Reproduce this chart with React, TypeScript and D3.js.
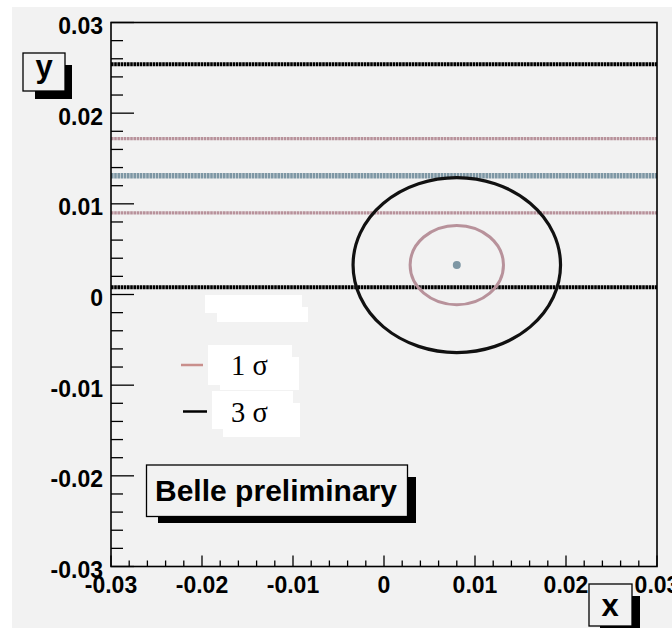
import React from "react";
import * as d3 from "d3";

// Measured band levels (y) and contour ellipses in the (x, y) plane
const centralBand: number[] = [0.0131];
const oneSigmaBand: number[] = [0.009, 0.0172];
const threeSigmaBand: number[] = [0.0008, 0.0254];

const bestFit: [number, number] = [0.008, 0.00325];
const oneSigmaRadii: [number, number] = [0.00513, 0.00437];
const threeSigmaRadii: [number, number] = [0.0114, 0.00965];

const legendLabels: string[] = ["1 σ", "3 σ"];
const annotation = "Belle preliminary";
const xTitle = "x";
const yTitle = "y";

const W = 672;
const H = 628;
const sans = "'Liberation Sans', Arial, Helvetica, sans-serif";
const serif = "'Liberation Serif', 'Times New Roman', serif";

const PINK = "#b8929b";
const BLUE = "#7e97a4";
const LEGEND_PINK = "#c98f8c";

export default function App() {
  const x = d3.scaleLinear().domain([-0.03, 0.03]).range([111, 657]);
  const y = d3.scaleLinear().domain([-0.03, 0.03]).range([566.5, 22.5]);

  const minorX = x.ticks(30);
  const majorX = x.ticks(6);
  const minorY = y.ticks(30);
  const majorY = y.ticks(6);
  const fmt = (v: number) =>
    Math.abs(v) < 1e-12 ? "0" : d3.format(".2f")(v).replace("\u2212", "-");

  const [x0, x1] = x.range();

  const hLine = (v: number, color: string, width: number, key: string) => (
    <line
      key={key}
      x1={x0}
      x2={x1}
      y1={y(v)}
      y2={y(v)}
      stroke={color}
      strokeWidth={width}
      strokeDasharray="2.6 0.6"
    />
  );

  const ellipse = (r: [number, number], color: string, width: number, key: string) => (
    <ellipse
      key={key}
      cx={x(bestFit[0])}
      cy={y(bestFit[1])}
      rx={x(bestFit[0] + r[0]) - x(bestFit[0])}
      ry={y(bestFit[1]) - y(bestFit[1] + r[1])}
      fill="none"
      stroke={color}
      strokeWidth={width}
    />
  );

  return (
    <svg
      width={W}
      height={H}
      style={{ position: "absolute", left: 0, top: 0, background: "#ffffff" }}
    >
      {/* canvas */}
      <rect x={12} y={7} width={W - 12} height={H - 7} fill="#f2f2f2" />

      {/* bands */}
      {threeSigmaBand.map((v, i) => hLine(v, "#000000", 4, `t${i}`))}
      {oneSigmaBand.map((v, i) => hLine(v, PINK, 3.2, `o${i}`))}
      {centralBand.map((v, i) => hLine(v, BLUE, 5.5, `c${i}`))}

      {/* contours */}
      {ellipse(threeSigmaRadii, "#111111", 3.2, "e3")}
      {ellipse(oneSigmaRadii, PINK, 3, "e1")}
      <circle cx={x(bestFit[0])} cy={y(bestFit[1])} r={4} fill={BLUE} />

      {/* frame */}
      <rect
        x={x0}
        y={y.range()[1]}
        width={x1 - x0}
        height={y.range()[0] - y.range()[1]}
        fill="none"
        stroke="#000"
        strokeWidth={1.6}
      />

      {/* y axis ticks */}
      {minorY.map((v) => (
        <line
          key={`my${v}`}
          x1={x0}
          x2={x0 + (majorY.some((m) => Math.abs(m - v) < 1e-9) ? 23 : 12)}
          y1={y(v)}
          y2={y(v)}
          stroke="#000"
          strokeWidth={1.3}
        />
      ))}
      {majorY.map((v) => (
        <text
          key={`ly${v}`}
          x={103}
          y={y(v) + 11.5}
          textAnchor="end"
          fontFamily={sans}
          fontWeight="bold"
          fontSize={23}
          fill="#000"
        >
          {fmt(v)}
        </text>
      ))}

      {/* x axis ticks */}
      {minorX.map((v) => (
        <line
          key={`mx${v}`}
          x1={x(v)}
          x2={x(v)}
          y1={y.range()[0]}
          y2={y.range()[0] - (majorX.some((m) => Math.abs(m - v) < 1e-9) ? 11 : 6)}
          stroke="#000"
          strokeWidth={1.3}
        />
      ))}
      {majorX.map((v) => (
        <text
          key={`lx${v}`}
          x={x(v)}
          y={592.5}
          textAnchor="middle"
          fontFamily={sans}
          fontWeight="bold"
          fontSize={23}
          fill="#000"
        >
          {fmt(v)}
        </text>
      ))}

      {/* axis titles */}
      <rect x={35} y={65} width={37} height={34} fill="#000" />
      <rect x={23} y={53} width={42} height={38} fill="#f2f2f2" stroke="#000" strokeWidth={1.3} />
      <text x={44} y={77} textAnchor="middle" fontFamily={sans} fontWeight="bold" fontSize={31}>
        {yTitle}
      </text>

      <rect x={600} y={596} width={40} height={34} fill="#000" />
      <rect x={589} y={584} width={43} height={42} fill="#f2f2f2" stroke="#000" strokeWidth={1.3} />
      <text x={610} y={616} textAnchor="middle" fontFamily={sans} fontWeight="bold" fontSize={31}>
        {xTitle}
      </text>

      {/* legend */}
      <rect x={205} y={295} width={97} height={18} fill="#fff" />
      <rect x={217} y={307} width={91} height={15} fill="#fff" />

      <rect x={208} y={345} width={84} height={40} fill="#fff" />
      <rect x={220} y={357} width={79} height={33} fill="#fff" />
      <line x1={181} x2={203} y1={365} y2={365} stroke={LEGEND_PINK} strokeWidth={2.5} />
      <text x={231} y={375} fontFamily={serif} fontSize={28.5} fill="#000">
        {legendLabels[0]}
      </text>

      <rect x={212} y={391} width={81} height={38} fill="#fff" />
      <rect x={223} y={403} width={77} height={34} fill="#fff" />
      <line x1={183} x2={207} y1={411.5} y2={411.5} stroke="#000" strokeWidth={2.5} />
      <text x={231} y={421.5} fontFamily={serif} fontSize={28.5} fill="#000">
        {legendLabels[1]}
      </text>

      {/* annotation */}
      <rect x={158} y={477} width={258} height={46} fill="#000" />
      <rect x={146.5} y={465} width={261} height={51.5} fill="#f2f2f2" stroke="#000" strokeWidth={1.3} />
      <text x={155} y={500.5} fontFamily={sans} fontWeight="bold" fontSize={30} fill="#000" textLength={242}>
        {annotation}
      </text>
    </svg>
  );
}
